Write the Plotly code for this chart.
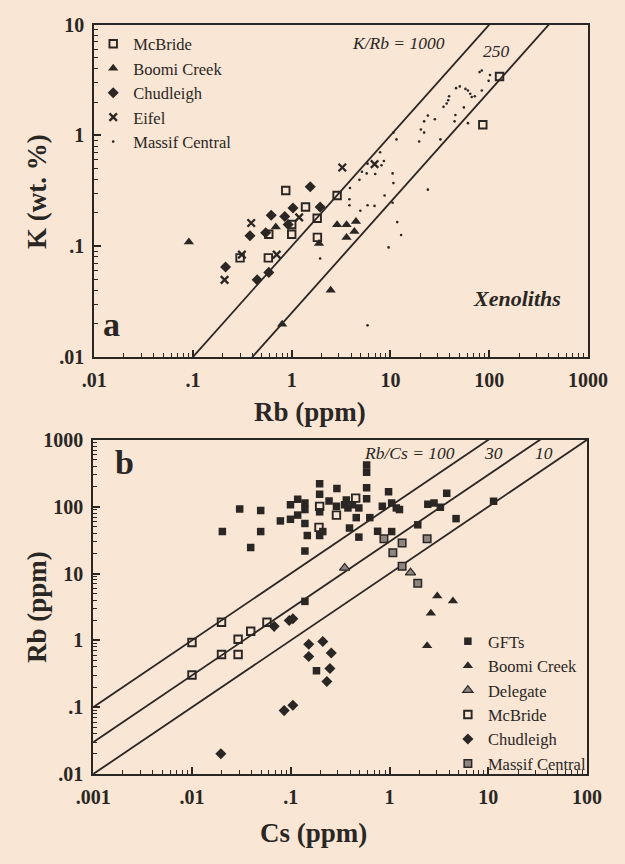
import numpy as np
import plotly.graph_objects as go

# ---------------- Panel a data: K (wt.%) vs Rb (ppm) ----------------
mcb_a_rb = [0.87, 1.38, 2.88, 1.81, 1.0, 1.0, 0.586, 1.82, 0.30, 0.58, 127, 86]
mcb_a_k = [0.318, 0.226, 0.287, 0.179, 0.157, 0.128, 0.128, 0.120, 0.0785, 0.0785, 3.4, 1.25]

boomi_a_rb = [0.091, 0.69, 1.89, 2.88, 3.59, 4.47, 3.59, 4.31, 2.48, 0.80]
boomi_a_k = [0.109, 0.149, 0.106, 0.156, 0.156, 0.167, 0.120, 0.136, 0.040, 0.0197]

chud_a_rb = [1.54, 1.03, 0.62, 0.85, 1.94, 0.92, 0.545, 0.378, 0.214, 0.447, 0.586]
chud_a_k = [0.344, 0.221, 0.190, 0.185, 0.226, 0.157, 0.132, 0.124, 0.065, 0.0497, 0.058]

eifel_a_rb = [3.25, 6.9, 0.389, 1.19, 0.313, 0.705, 0.209]
eifel_a_k = [0.513, 0.55, 0.162, 0.182, 0.084, 0.084, 0.0497]

mc_a_rb = [79.8, 84, 101.6, 98.5, 84, 71.4, 66.4, 64.1, 60.8, 57.4,
           50.3, 46.1, 39.2, 38.4, 34.4, 23.9, 21.9, 20.3, 19.5, 21.9,
           28.1, 32, 37, 55.3, 45.4, 60.8, 44.5, 10.7, 11.5, 7.85,
           8.57, 5.86, 5.74, 5.14, 4.85, 3.89, 3.84, 3.84, 5.86, 6.89,
           8.71, 10.5, 10.7, 10.5, 11.7, 12.8, 9.57, 23.9, 7.0, 8.1,
           4.95, 1.94, 5.86]
mc_a_k = [3.73, 3.86, 3.51, 3.11, 2.54, 2.26, 2.22, 2.38, 2.54, 2.63,
          2.77, 2.67, 2.26, 2.08, 1.81, 1.51, 1.34, 1.13, 0.88, 1.06,
          1.40, 0.92, 1.94, 1.79, 1.53, 1.29, 1.34, 1.06, 0.92, 0.705,
          0.588, 0.556, 0.454, 0.47, 0.397, 0.335, 0.265, 0.234, 0.234, 0.231,
          0.287, 0.454, 0.371, 0.247, 0.165, 0.126, 0.0975, 0.324, 0.449, 0.538,
          0.209, 0.0775, 0.0193]

k_rb_ratios = [1000, 250]

# ---------------- Panel b data: Rb (ppm) vs Cs (ppm) ----------------
gft_cs = [0.0203, 0.0304, 0.0393, 0.0496, 0.0496, 0.0785, 0.0993, 0.0993, 0.1175, 0.1175,
          0.139, 0.139, 0.139, 0.147, 0.139, 0.196, 0.196, 0.196, 0.196, 0.211,
          0.244, 0.293, 0.29, 0.351, 0.139, 0.182, 0.586, 0.586, 0.586, 0.586,
          0.365, 0.379, 0.422, 0.46, 0.489, 0.631, 0.977, 0.845, 1.05, 1.17,
          1.26, 0.393, 0.489, 0.757, 1.05, 1.93, 2.44, 2.82, 3.27, 3.79,
          4.71, 11.3]
gft_rb = [42.4, 92.6, 24.5, 87.5, 42.4, 61.2, 64.7, 107, 129, 74.8,
          113, 90.5, 56, 37, 21.7, 221, 153, 83.7, 37, 42.4,
          122, 187, 101, 107, 3.83, 0.351, 419, 327, 191, 131,
          126, 95.7, 107, 68.5, 95.7, 68.5, 167, 101, 113, 95.7,
          90.5, 47.9, 35, 42.8, 42.4, 53.5, 109, 113, 98, 158,
          66.2, 120]

boomi_b_cs = [3.04, 4.38, 2.62, 2.40]
boomi_b_rb = [4.59, 3.88, 2.54, 0.83]

deleg_b_cs = [0.351, 1.63]
deleg_b_rb = [12.1, 10.3]

mcb_b_cs = [0.0100, 0.0100, 0.0199, 0.0199, 0.0293, 0.0293, 0.0393, 0.0574, 0.196, 0.29, 0.193, 0.454]
mcb_b_rb = [0.927, 0.303, 1.87, 0.614, 1.04, 0.614, 1.37, 1.87, 101, 74.8, 49, 134]

chud_b_cs = [0.0679, 0.0964, 0.105, 0.152, 0.211, 0.257, 0.152, 0.249, 0.232, 0.0857, 0.105, 0.0196]
chud_b_rb = [1.62, 1.98, 2.10, 0.877, 0.96, 0.649, 0.574, 0.379, 0.243, 0.089, 0.107, 0.0201]

mc_b_cs = [0.877, 1.34, 1.08, 2.40, 1.34, 1.93]
mc_b_rb = [33.1, 28.6, 20.5, 33.1, 12.8, 7.17]

rb_cs_ratios = [100, 30, 10]

# tick labels
a_xticks = [0.01, 0.1, 1, 10, 100, 1000]
a_xlabels = [".01", ".1", "1", "10", "100", "1000"]
a_yticks = [0.01, 0.1, 1, 10]
a_ylabels = [".01", ".1", "1", "10"]
b_xticks = [0.001, 0.01, 0.1, 1, 10, 100]
b_xlabels = [".001", ".01", ".1", "1", "10", "100"]
b_yticks = [0.01, 0.1, 1, 10, 100, 1000]
b_ylabels = [".01", ".1", "1", "10", "100", "1000"]

# ---------------- styling ----------------
W, H = 625, 864
BG = "#f9e6d4"
INK = "#2a2624"
GREY = "#8c8580"
SERIF = "Liberation Serif"


def minor_vals(lo, hi):
    return [m * 10.0 ** e for e in range(lo, hi) for m in range(2, 10)]


fig = go.Figure()

# reference lines panel a
xa = np.array([0.01, 1000.0])
for r in k_rb_ratios:
    fig.add_trace(go.Scatter(x=xa, y=r * xa / 1e4, mode="lines", xaxis="x", yaxis="y",
                             line=dict(color=INK, width=1.8), showlegend=False, hoverinfo="skip"))
# reference lines panel b
xb = np.array([0.001, 100.0])
for r in rb_cs_ratios:
    fig.add_trace(go.Scatter(x=xb, y=r * xb, mode="lines", xaxis="x2", yaxis="y2",
                             line=dict(color=INK, width=1.8), showlegend=False, hoverinfo="skip"))

sq_open = dict(symbol="square-open", size=7.5, color=INK, line=dict(width=1.9, color=INK))
tri = dict(symbol="triangle-up", size=9, color=INK, line=dict(width=0))
dia = dict(symbol="diamond", size=8.5, color=INK, line=dict(width=0))
cross = dict(symbol="x-thin-open", size=7.5, color=INK, line=dict(width=2.3, color=INK))
dot = dict(symbol="circle", size=2.6, color=INK, line=dict(width=0))

# panel a
fig.add_trace(go.Scatter(x=mcb_a_rb, y=mcb_a_k, mode="markers", name="McBride", marker=sq_open,
                         xaxis="x", yaxis="y", legend="legend"))
fig.add_trace(go.Scatter(x=boomi_a_rb, y=boomi_a_k, mode="markers", name="Boomi Creek", marker=tri,
                         xaxis="x", yaxis="y", legend="legend"))
fig.add_trace(go.Scatter(x=chud_a_rb, y=chud_a_k, mode="markers", name="Chudleigh", marker=dia,
                         xaxis="x", yaxis="y", legend="legend"))
fig.add_trace(go.Scatter(x=eifel_a_rb, y=eifel_a_k, mode="markers", name="Eifel", marker=cross,
                         xaxis="x", yaxis="y", legend="legend"))
fig.add_trace(go.Scatter(x=mc_a_rb, y=mc_a_k, mode="markers", name="Massif Central", marker=dot,
                         xaxis="x", yaxis="y", legend="legend"))

# panel b
fig.add_trace(go.Scatter(x=gft_cs, y=gft_rb, mode="markers", name="GFTs",
                         marker=dict(symbol="square", size=7.5, color=INK, line=dict(width=0)),
                         xaxis="x2", yaxis="y2", legend="legend2"))
fig.add_trace(go.Scatter(x=boomi_b_cs, y=boomi_b_rb, mode="markers", name="Boomi Creek", marker=tri,
                         xaxis="x2", yaxis="y2", legend="legend2"))
fig.add_trace(go.Scatter(x=deleg_b_cs, y=deleg_b_rb, mode="markers", name="Delegate",
                         marker=dict(symbol="triangle-up", size=9, color=GREY, line=dict(width=1.2, color=INK)),
                         xaxis="x2", yaxis="y2", legend="legend2"))
fig.add_trace(go.Scatter(x=mcb_b_cs, y=mcb_b_rb, mode="markers", name="McBride", marker=sq_open,
                         xaxis="x2", yaxis="y2", legend="legend2"))
fig.add_trace(go.Scatter(x=chud_b_cs, y=chud_b_rb, mode="markers", name="Chudleigh", marker=dia,
                         xaxis="x2", yaxis="y2", legend="legend2"))
fig.add_trace(go.Scatter(x=mc_b_cs, y=mc_b_rb, mode="markers", name="Massif Central",
                         marker=dict(symbol="square", size=7.5, color=GREY, line=dict(width=1.5, color=INK)),
                         xaxis="x2", yaxis="y2", legend="legend2"))

tickfont = dict(family=SERIF, size=20, color=INK, weight="bold")


def axis(domain, rng, tv, tt, anchor, mlo, mhi):
    return dict(type="log", domain=domain, range=rng, anchor=anchor,
                tickmode="array", tickvals=tv, ticktext=tt, ticks="inside", ticklen=7,
                tickwidth=1.5, tickcolor=INK, showline=True, linewidth=2, linecolor=INK,
                mirror=True, showgrid=False, zeroline=False, tickfont=tickfont,
                ticklabelstandoff=4,
                minor=dict(ticks="inside", ticklen=4, tickwidth=1.2, tickcolor=INK,
                           tickvals=minor_vals(mlo, mhi), showgrid=False))


def px(v):
    return v / W


def py(v):
    return 1 - v / H


xa_ax = axis([px(82), px(607)], [-2, 3], a_xticks, a_xlabels, "y", -2, 3)
ya_ax = axis([py(355), py(14)], [-2, 1], a_yticks, a_ylabels, "x", -2, 1)
xb_ax = axis([px(81), px(606)], [-3, 2], b_xticks, b_xlabels, "y2", -3, 2)
yb_ax = axis([py(783), py(440)], [-2, 3], b_yticks, b_ylabels, "x2", -2, 3)

legfont = dict(family=SERIF, size=16.5, color=INK)

fig.update_layout(
    width=W, height=H, margin=dict(l=0, r=0, t=0, b=0),
    paper_bgcolor=BG, plot_bgcolor=BG,
    xaxis=xa_ax, yaxis=ya_ax, xaxis2=xb_ax, yaxis2=yb_ax,
    legend=dict(x=px(81), y=py(16), xanchor="left", yanchor="top", bgcolor="rgba(0,0,0,0)",
                font=legfont, tracegroupgap=0, itemwidth=30),
    legend2=dict(x=px(458), y=py(629), xanchor="left", yanchor="top", bgcolor="rgba(0,0,0,0)",
                 font=legfont, tracegroupgap=0, itemwidth=30),
)

title_font = dict(family=SERIF, size=27, color=INK, weight="bold")
ann = [
    dict(text="K (wt. %)", x=px(22), y=py(185), textangle=-90, font=title_font),
    dict(text="Rb (ppm)", x=px(311), y=py(411), font=title_font),
    dict(text="Rb (ppm)", x=px(22), y=py(612), textangle=-90, font=title_font),
    dict(text="Cs (ppm)", x=px(315), y=py(843), font=title_font),
    dict(text="a", x=px(100), y=py(322), font=dict(family=SERIF, size=34, color=INK, weight="bold")),
    dict(text="b", x=px(114), y=py(463), font=dict(family=SERIF, size=34, color=INK, weight="bold")),
    dict(text="<i>Xenoliths</i>", x=px(531), y=py(295),
         font=dict(family=SERIF, size=22, color=INK, weight="bold")),
    dict(text="<i>K/Rb = 1000</i>", x=px(406), y=py(33), font=dict(family=SERIF, size=17.5, color=INK)),
    dict(text="<i>250</i>", x=px(510), y=py(41), font=dict(family=SERIF, size=17.5, color=INK)),
    dict(text="<i>Rb/Cs = 100</i>", x=px(417), y=py(454), font=dict(family=SERIF, size=17.5, color=INK)),
    dict(text="<i>30</i>", x=px(506), y=py(454), font=dict(family=SERIF, size=17.5, color=INK)),
    dict(text="<i>10</i>", x=px(560), y=py(454), font=dict(family=SERIF, size=17.5, color=INK)),
]
for a in ann:
    a.update(xref="paper", yref="paper", showarrow=False, xanchor="center", yanchor="middle")
fig.update_layout(annotations=ann)

fig.write_html("out.html")
